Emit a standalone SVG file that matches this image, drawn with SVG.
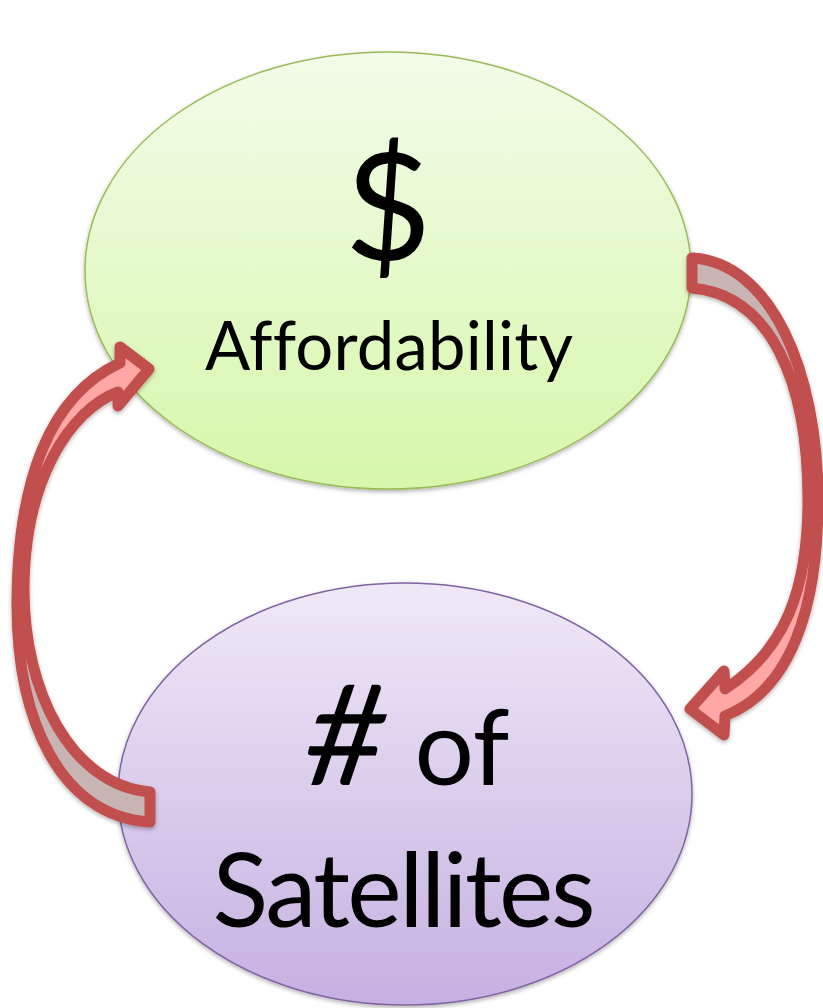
<svg xmlns="http://www.w3.org/2000/svg" width="823" height="1008" viewBox="0 0 823 1008">
  <defs>
    <linearGradient id="greenFill" x1="0" y1="0" x2="0" y2="1">
      <stop offset="0" stop-color="#F2FCE9"/>
      <stop offset="1" stop-color="#D7F7AB"/>
    </linearGradient>
    <linearGradient id="purpleFill" x1="0" y1="0" x2="0" y2="1">
      <stop offset="0" stop-color="#EFE9F7"/>
      <stop offset="1" stop-color="#C6B0E2"/>
    </linearGradient>
    <!-- twisted ribbon: back face (grey-pink) near the tail, front face (pink) near the head -->
    <linearGradient id="ribbonDown" x1="0" y1="0" x2="0" y2="1">
      <stop offset="0" stop-color="#C9B4B4"/>
      <stop offset="0.5" stop-color="#C9B4B4"/>
      <stop offset="0.5" stop-color="#FFA6A6"/>
      <stop offset="1" stop-color="#FFA6A6"/>
    </linearGradient>
    <linearGradient id="ribbonUp" x1="0" y1="0" x2="0" y2="1">
      <stop offset="0" stop-color="#FFA6A6"/>
      <stop offset="0.5" stop-color="#FFA6A6"/>
      <stop offset="0.5" stop-color="#C9B4B4"/>
      <stop offset="1" stop-color="#C9B4B4"/>
    </linearGradient>
    <filter id="softShadow" x="-10%" y="-10%" width="120%" height="120%">
      <feDropShadow dx="0" dy="2" stdDeviation="2" flood-color="#000" flood-opacity="0.3"/>
    </filter>
  </defs>
  <style>
    .label { font-family: Lato, "Open Sans", "Liberation Sans", sans-serif; fill: #000; text-anchor: middle; font-variant-ligatures: none; }
    .arrow { stroke: #C0504D; stroke-width: 11; stroke-linejoin: round; filter: url(#softShadow); }
    .node { filter: url(#softShadow); }
  </style>

  <rect width="823" height="1008" fill="#FFFFFF"/>

  <g id="node-affordability">
    <ellipse class="node" cx="388" cy="270.5" rx="303" ry="218.5" fill="url(#greenFill)" stroke="#9BBB59" stroke-width="1.5"/>
    <text class="label" x="388" y="260" font-size="150">$</text>
    <text class="label" x="389" y="370" font-size="67" textLength="368">Affordability</text>
  </g>

  <g id="node-satellites">
    <ellipse class="node" cx="405" cy="794" rx="287" ry="211" fill="url(#purpleFill)" stroke="#8064A2" stroke-width="1.5"/>
    <text class="label" x="0" y="0" font-size="140" transform="translate(340 785) skewX(-8)">#</text>
    <text class="label" x="462" y="785" font-size="105">of</text>
    <text class="label" x="404" y="927" font-size="103" textLength="383">Satellites</text>
  </g>

  <g id="connectors">
    <!-- affordability -> satellites, curving round the right side -->
    <path class="arrow" fill="url(#ribbonDown)" d="M 692,258 C 770,262 818,370 818,500 C 818,610 790,690 725,716 L 724,735 L 690,709 L 724,671 L 725,689 C 785,650 808,590 808,500 C 808,380 770,295 692,288 Z"/>
    <!-- satellites -> affordability, curving round the left side -->
    <path class="arrow" fill="url(#ribbonUp)" d="M 150,822 C 60,816 16,720 17,600 C 18,480 50,395 120,363 L 120,347 L 149,369 L 118,406 L 118,392 C 70,410 24,480 24,590 C 24,690 70,785 150,792 Z"/>
  </g>
</svg>
